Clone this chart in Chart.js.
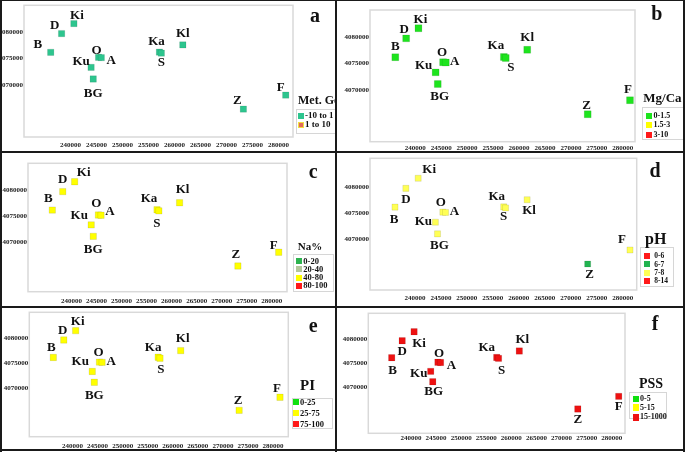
<!DOCTYPE html>
<html>
<head>
<meta charset="utf-8">
<script src="https://cdn.jsdelivr.net/npm/chart.js@4.4.1/dist/chart.umd.min.js"></script>
<style>
  body { margin: 0; background: #fff; }
  #fig { position: relative; width: 685px; height: 452px; overflow: hidden;
         font-family: "Liberation Serif", "Times New Roman", serif; font-weight: bold; color: #111; }
  .panel { position: absolute; overflow: hidden; }
  .panel canvas { position: absolute; left: 0; top: 0; }
  .txt { position: absolute; white-space: nowrap; }
  .sq { position: absolute; }
  .box { position: absolute; border: 1px solid #d6d6d6; background: #fff; box-sizing: border-box; }
  .rule { position: absolute; background: #1a1a1a; }
</style>
</head>
<body>
<div id="fig"></div>
<script>
// ========================
// DATA
// ========================

const sites = ['Ki', 'D', 'B', 'O', 'A', 'Ku', 'BG', 'Ka', 'S', 'Kl', 'Z', 'F'];
const easting = [240630, 238260, 236170, 245380, 245900, 243940, 244350, 257090, 257450, 261590, 273240, 281390];
const northing = [4081600, 4079700, 4076150, 4075200, 4075150, 4073300, 4071100, 4076200, 4076000, 4077550, 4065400, 4068050];

const xTickValues = [240000, 245000, 250000, 255000, 260000, 265000, 270000, 275000, 280000];
const yTickValues = [4070000, 4075000, 4080000];

// class names per parameter, and which class each site falls in (same order as sites)
const metGenClasses = ['-10 to 1', '1 to 10'];
const metGenClass = [0, 0, 0, 0, 0, 0, 0, 0, 0, 0, 0, 0];
const mgCaClasses = ['0-1.5', '1.5-3', '3-10'];
const mgCaClass = [0, 0, 0, 0, 0, 0, 0, 0, 0, 0, 0, 0];
const naClasses = ['0-20', '20-40', '40-80', '80-100'];
const naClass = [2, 2, 2, 2, 2, 2, 2, 2, 2, 2, 2, 2];
const phClasses = ['0-6', '6-7', '7-8', '8-14'];
const phClass = [2, 2, 2, 2, 2, 2, 2, 2, 2, 2, 1, 2];
const piClasses = ['0-25', '25-75', '75-100'];
const piClass = [1, 1, 1, 1, 1, 1, 1, 1, 1, 1, 1, 1];
const pssClasses = ['0-5', '5-15', '15-1000'];
const pssClass = [2, 2, 2, 2, 2, 2, 2, 2, 2, 2, 2, 2];

// ========================
// PANEL LAYOUT (positions / styles only)
// ========================

const RED = '#ff1a1a';
const panels = [
  { letter: 'a', title: 'Met. Gen', classes: metGenClasses, cls: metGenClass,
    colors: ['#2dc58e', '#e46a5a'], legendBorders: ['#2dc58e', '#f0e040'],
    box: [0, 0, 336, 152], area: [24, 5, 293, 137], xr: [231030, 282790], yr: [4060110, 4085060],
    r: 4.5, xPad: 4, letterPos: [315, 15],
    titlePos: [298, 100, 12], legBox: [296, 109, 44, 25], sqX: 300.5, txtX: 305, rows: [115.5, 124.5], fs: 9, sq: 6,
    offs: [[3, -8], [-7, -8], [-13, -8], [-2, -7], [10, 3], [-10, -6], [0, 15], [-3, -10], [0, 10], [0, -11], [-6, -8], [-5, -7]] },
  { letter: 'b', title: 'Mg/Ca', classes: mgCaClasses, cls: mgCaClass,
    colors: ['#1ee41e', '#ffff00', RED],
    box: [336, 0, 349, 152], area: [34, 10, 299, 141.7], xr: [231295, 282355], yr: [4060240, 4085047],
    r: 4.9, xPad: 2.5, letterPos: [320.7, 13.3],
    titlePos: [307.3, 97.7, 13], legBox: [305.7, 107.3, 50, 33], sqX: 313, txtX: 317.5, rows: [115.7, 125.3, 134.7], fs: 8, sq: 6,
    offs: [[2, -9], [-2, -9], [0, -11], [-1, -10], [9, -1], [-12, -7], [2, 13], [-8, -11], [5, 10], [0, -12], [-1, -9], [-2, -11]] },
  { letter: 'c', title: 'Na%', classes: naClasses, cls: naClass,
    colors: ['#2db34f', '#b3c79b', '#ffff00', RED],
    box: [0, 152, 336, 155], area: [28, 11.3, 287, 139.7], xr: [231317, 283045], yr: [4060463, 4085136],
    r: 4.5, xPad: 5.5, letterPos: [313.3, 18.7],
    titlePos: [297.7, 94.7, 11], legBox: [292.7, 102, 41, 38], sqX: 299, txtX: 303.3, rows: [109, 117.3, 125.7, 133.7], fs: 8.5, sq: 5.7,
    offs: [[9, -9], [0, -12], [-4, -11], [-2, -11], [9, -4], [-12, -9], [0, 13], [-8, -11], [-2, 13], [3, -13], [-2, -11], [-5, -7]] },
  { letter: 'd', title: 'pH', classes: phClasses, cls: phClass,
    colors: [RED, '#22b350', '#ffff55', RED],
    box: [336, 152, 349, 155], area: [34, 6.3, 300.7, 138], xr: [231360, 282678], yr: [4060484, 4085380],
    r: 4.3, xPad: 4, letterPos: [319, 18],
    titlePos: [309, 86.5, 16], legBox: [304, 95.3, 34, 40], sqX: 311, txtX: 318.3, rows: [104, 112.3, 120.7, 129], fs: 7.5, sq: 6,
    offs: [[11, -9], [0, 11], [-1, 13], [-2, -10], [9, -1], [-12, -1], [2, 12], [-7, -10], [-2, 9], [2, 11], [2, 11], [-8, -10]] },
  { letter: 'e', title: 'PI', classes: piClasses, cls: piClass,
    colors: ['#10e010', '#ffff00', RED],
    box: [0, 307, 336, 145], area: [29.3, 3.7, 288.3, 129.7], xr: [231382, 283048], yr: [4060038, 4085334],
    r: 4.5, xPad: 5, letterPos: [313.3, 18],
    titlePos: [300, 78.3, 15], legBox: [291.7, 90.7, 41, 31], sqX: 296.2, txtX: 300, rows: [95.3, 106.3, 117], fs: 8.5, sq: 6,
    offs: [[2, -9], [-1, -9], [-2, -10], [-1, -9], [9, -1], [-12, -10], [0, 13], [-5, -10], [1, 11], [2, -12], [-1, -10], [-3, -9]] },
  { letter: 'f', title: 'PSS', classes: pssClasses, cls: pssClass,
    colors: ['#10e010', '#ffff00', '#ee1111'],
    box: [336, 307, 349, 145], area: [32.3, 6.3, 289, 126.3], xr: [231509, 282644], yr: [4060309, 4085456],
    r: 4.5, xPad: 0.5, letterPos: [319, 16.3],
    titlePos: [303, 77.3, 14], legBox: [293.3, 84.7, 38, 27], sqX: 300, txtX: 304, rows: [92, 100.7, 110.3], fs: 8, sq: 6.5,
    offs: [[5, 12], [0, 11], [1, 13], [1, -9], [11, 3], [-12, 2], [1, 10], [-10, -10], [3, 12], [3, -11], [0, 11], [0, 10]] }
];

const SERIF = '"Liberation Serif", "Times New Roman", serif';
const fig = document.getElementById('fig');

// ========================
// HELPERS
// ========================

function addText(parent, text, x, cy, size, align) {
  const d = document.createElement('div');
  d.className = 'txt';
  d.textContent = text;
  d.style.fontSize = size + 'px';
  d.style.lineHeight = size + 'px';
  d.style.top = (cy - size / 2) + 'px';
  if (align === 'center') {
    d.style.left = (x - 50) + 'px';
    d.style.width = '100px';
    d.style.textAlign = 'center';
  } else {
    d.style.left = x + 'px';
  }
  parent.appendChild(d);
}

function addRule(x, y, w, h) {
  const d = document.createElement('div');
  d.className = 'rule';
  Object.assign(d.style, { left: x + 'px', top: y + 'px', width: w + 'px', height: h + 'px' });
  fig.appendChild(d);
}

// plot frame + site names
const frameAndLabels = {
  id: 'frameAndLabels',
  beforeDatasetsDraw(chart) {
    const { ctx, chartArea: a } = chart;
    ctx.save();
    ctx.strokeStyle = '#d9d9d9';
    ctx.lineWidth = 1.5;
    ctx.strokeRect(a.left, a.top, a.right - a.left, a.bottom - a.top);
    ctx.restore();
  },
  afterDatasetsDraw(chart, args, opts) {
    const { ctx } = chart;
    const pts = chart.getDatasetMeta(0).data;
    ctx.save();
    ctx.font = 'bold 13px ' + SERIF;
    ctx.fillStyle = '#111';
    ctx.textAlign = 'center';
    ctx.textBaseline = 'middle';
    pts.forEach((pt, i) => {
      const [dx, dy] = opts.offs[i];
      ctx.fillText(sites[i], pt.x + dx, pt.y + dy);
    });
    ctx.restore();
  }
};

// ========================
// BUILD PANELS
// ========================

panels.forEach(p => {
  const [bx, by, bw, bh] = p.box;
  const wrap = document.createElement('div');
  wrap.className = 'panel';
  Object.assign(wrap.style, { left: bx + 'px', top: by + 'px', width: bw + 'px', height: bh + 'px' });
  const cv = document.createElement('canvas');
  cv.width = bw;
  cv.height = bh;
  wrap.appendChild(cv);
  fig.appendChild(wrap);

  const tickFont = { family: SERIF, size: 7, weight: 'bold' };

  new Chart(cv, {
    type: 'scatter',
    data: {
      datasets: [{
        data: easting.map((e, i) => ({ x: e, y: northing[i] })),
        pointStyle: 'rect',
        pointRadius: p.r,
        pointBackgroundColor: p.cls.map(c => p.colors[c]),
        pointBorderColor: 'rgba(0,0,0,0.12)',
        pointBorderWidth: 0.8
      }]
    },
    options: {
      responsive: false,
      animation: false,
      layout: { padding: { left: 0, top: p.area[1], right: bw - p.area[2], bottom: 0 } },
      plugins: {
        legend: { display: false },
        tooltip: { enabled: false },
        frameAndLabels: { offs: p.offs }
      },
      scales: {
        x: {
          type: 'linear', min: p.xr[0], max: p.xr[1],
          grid: { display: false, drawTicks: false },
          border: { display: false },
          afterBuildTicks: s => { s.ticks = xTickValues.map(v => ({ value: v })); },
          afterFit: s => { s.height = bh - p.area[3]; },
          ticks: { font: tickFont, color: '#222', padding: p.xPad, maxRotation: 0, autoSkip: false,
                   callback: v => String(v) }
        },
        y: {
          type: 'linear', min: p.yr[0], max: p.yr[1],
          grid: { display: false, drawTicks: false },
          border: { display: false },
          afterBuildTicks: s => { s.ticks = yTickValues.map(v => ({ value: v })); },
          afterFit: s => { s.width = p.area[0]; },
          ticks: { font: tickFont, color: '#222', padding: 1, autoSkip: false,
                   callback: v => String(v) }
        }
      }
    },
    plugins: [frameAndLabels]
  });

  // panel letter
  addText(wrap, p.letter, p.letterPos[0], p.letterPos[1], 20, 'center');

  // legend: box first, then the title and the rows on top
  const lb = document.createElement('div');
  lb.className = 'box';
  Object.assign(lb.style, { left: p.legBox[0] + 'px', top: p.legBox[1] + 'px',
                            width: p.legBox[2] + 'px', height: p.legBox[3] + 'px' });
  wrap.appendChild(lb);
  addText(wrap, p.title, p.titlePos[0], p.titlePos[1], p.titlePos[2]);
  p.classes.forEach((name, i) => {
    const y = p.rows[i];
    const s = document.createElement('div');
    s.className = 'sq';
    Object.assign(s.style, { left: (p.sqX - p.sq / 2) + 'px', top: (y - p.sq / 2) + 'px',
                             width: p.sq + 'px', height: p.sq + 'px', background: p.colors[i] });
    if (p.legendBorders) {
      s.style.boxSizing = 'border-box';
      s.style.border = '1px solid ' + p.legendBorders[i];
    }
    wrap.appendChild(s);
    addText(wrap, name, p.txtX, y, p.fs);
  });
});

// frame rules between panels
addRule(0, 0, 685, 1);
addRule(0, 0, 2, 452);
addRule(683, 0, 2, 452);
addRule(0, 449, 685, 2);
addRule(335, 0, 2, 452);
addRule(0, 151, 685, 2);
addRule(0, 306, 685, 2);
</script>
</body>
</html>
